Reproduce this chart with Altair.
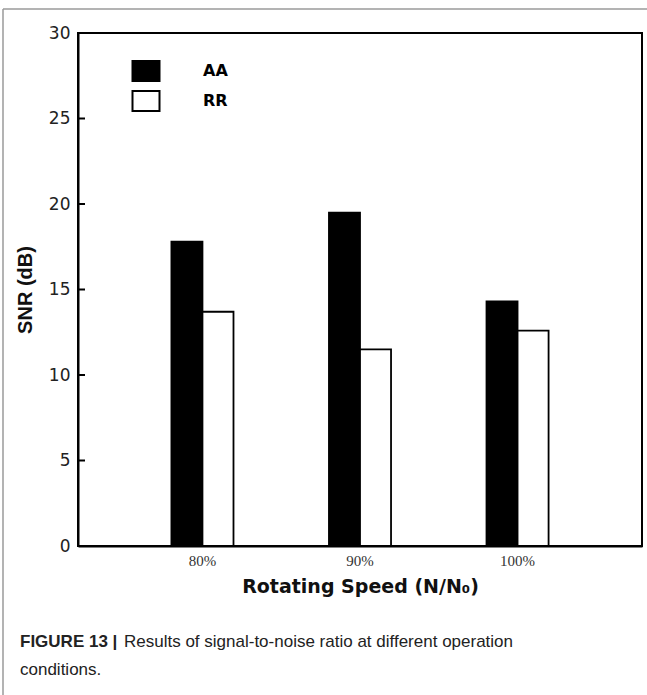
import altair as alt
import pandas as pd

# ---- data ----
categories = ["80%", "90%", "100%"]
series = ["AA", "RR"]
aa_values = [17.8, 19.5, 14.3]
rr_values = [13.7, 11.5, 12.6]
y_ticks = [0, 5, 10, 15, 20, 25, 30]

rows = []
for c, a, r in zip(categories, aa_values, rr_values):
    rows.append({"speed": c, "series": "AA", "snr": a})
    rows.append({"speed": c, "series": "RR", "snr": r})
df = pd.DataFrame(rows)
tick_df = pd.DataFrame({"tick": y_ticks})

W, H = 564, 513
SANS = "Liberation Sans"
WIDE = "DejaVu Sans"
SERIF = "Liberation Serif"

yscale = alt.Scale(domain=[0, 30], nice=False, zero=True)

bars = alt.Chart(df).mark_bar(stroke="black", strokeWidth=1.8).encode(
    x=alt.X(
        "speed:N",
        sort=categories,
        scale=alt.Scale(paddingInner=0.606, paddingOuter=0.593),
        axis=alt.Axis(
            title="Rotating Speed (N/N\u2080)",
            titleFont=WIDE,
            titleFontSize=19,
            titleFontWeight="bold",
            titleColor="#111",
            titlePadding=9,
            labelFont=SERIF,
            labelFontSize=15,
            labelColor="#333",
            labelAngle=0,
            labelPadding=7,
            ticks=False,
            domainColor="black",
            domainWidth=2,
            grid=False,
        ),
    ),
    xOffset=alt.XOffset("series:N", sort=series),
    y=alt.Y(
        "snr:Q",
        scale=yscale,
        axis=alt.Axis(
            title="SNR (dB)",
            titleFont=SANS,
            titleFontSize=20,
            titleFontWeight="bold",
            titleColor="#111",
            titlePadding=13,
            values=y_ticks,
            labelFont=WIDE,
            labelFontSize=17,
            labelColor="#222",
            labelPadding=8,
            ticks=False,
            domainColor="black",
            domainWidth=2,
            grid=False,
        ),
    ),
    color=alt.Color(
        "series:N",
        sort=series,
        scale=alt.Scale(domain=series, range=["black", "white"]),
        legend=alt.Legend(
            title=None,
            orient="none",
            legendX=57,
            legendY=27,
            symbolType="M-1.35,-1L1.35,-1L1.35,1L-1.35,1Z",
            symbolSize=400,
            symbolStrokeColor="black",
            symbolStrokeWidth=2,
            symbolOpacity=1,
            labelFont=WIDE,
            labelFontSize=16,
            labelFontWeight="bold",
            labelColor="black",
            labelOffset=46,
            rowPadding=2,
            padding=0,
        ),
    ),
)

ticks = alt.Chart(tick_df).mark_rule(color="black", strokeWidth=2).encode(
    y=alt.Y("tick:Q", scale=yscale),
    x=alt.value(0),
    x2=alt.value(7),
)

# outer figure frame (left and top edges)
frame_top = alt.Chart(tick_df.head(1)).mark_rule(color="#9a9a9a", strokeWidth=1.5).encode(
    x=alt.value(-75), x2=alt.value(W + 10), y=alt.value(-24)
)
frame_left = alt.Chart(tick_df.head(1)).mark_rule(color="#9a9a9a", strokeWidth=1.5).encode(
    x=alt.value(-75), y=alt.value(-24), y2=alt.value(H + 200)
)

cap_bold = alt.Chart(tick_df.head(1)).mark_text(
    text="FIGURE 13 |", font=SANS, fontSize=17, fontWeight="bold",
    align="left", baseline="middle", color="#222"
).encode(x=alt.value(-58), y=alt.value(609))

cap_line1 = alt.Chart(tick_df.head(1)).mark_text(
    text="Results of signal-to-noise ratio at different operation", font=SANS,
    fontSize=17, align="left", baseline="middle", color="#222"
).encode(x=alt.value(46), y=alt.value(609))

cap_line2 = alt.Chart(tick_df.head(1)).mark_text(
    text="conditions.", font=SANS, fontSize=17, align="left",
    baseline="middle", color="#222"
).encode(x=alt.value(-58), y=alt.value(637))

chart = alt.layer(
    bars, ticks, frame_top, frame_left, cap_bold, cap_line1, cap_line2
).properties(
    width=W,
    height=H,
    autosize=alt.AutoSizeParams(type="none"),
    padding={"left": 78, "top": 33, "right": 5, "bottom": 149},
    background="white",
).configure_view(
    stroke="black", strokeWidth=2
)

chart.save("out.html", embed_options={"renderer": "svg", "actions": False})
